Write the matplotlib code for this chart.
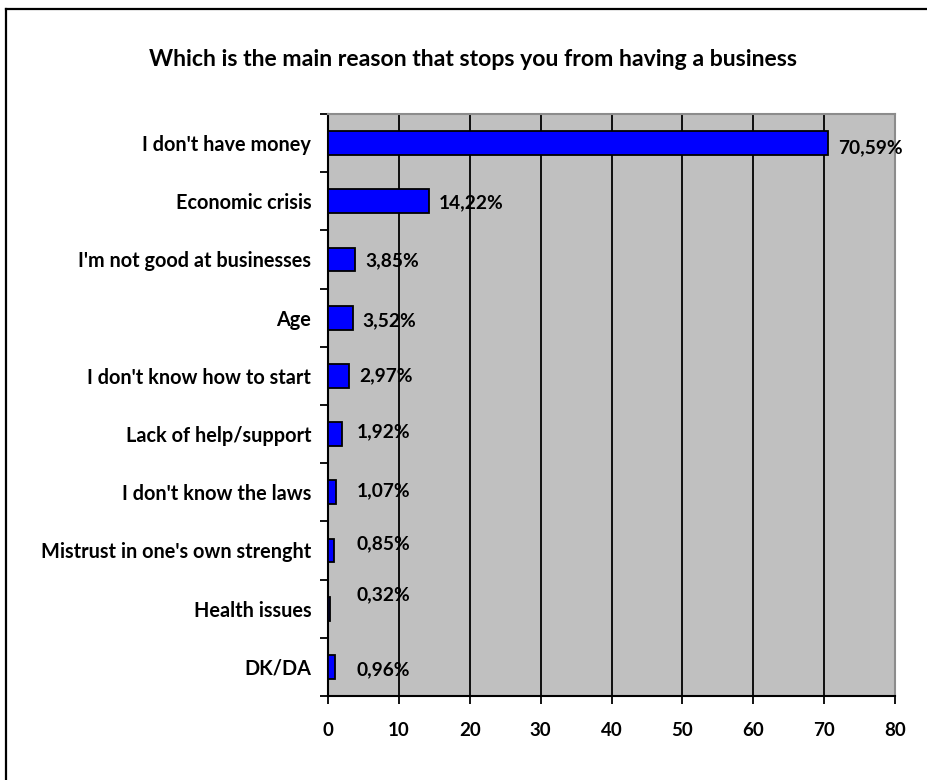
import numpy as np
import matplotlib
matplotlib.use("Agg")
import matplotlib.pyplot as plt
from matplotlib.lines import Line2D

plt.rcParams['font.family'] = ['Lato', 'DejaVu Sans']
plt.rcParams['font.weight'] = 'bold'

#########################
# DATA
#########################
categories = ["I don't have money", "Economic crisis", "I'm not good at businesses", "Age",
              "I don't know how to start", "Lack of help/support", "I don't know the laws",
              "Mistrust in one's own strenght", "Health issues", "DK/DA"]
values = [70.59, 14.22, 3.85, 3.52, 2.97, 1.92, 1.07, 0.85, 0.32, 0.96]
labels = ["70,59%", "14,22%", "3,85%", "3,52%", "2,97%", "1,92%", "1,07%", "0,85%", "0,32%", "0,96%"]
xticks = [0, 10, 20, 30, 40, 50, 60, 70, 80]
title = "Which is the main reason that stops you from having a business"

# small vertical nudges of the value labels (points), as in the original
label_dy = [-3, -1, -1, -2, 0, 2, 1, 5, 10, -2]

W, H = 927, 780
fig = plt.figure(figsize=(W / 100, H / 100), dpi=100)
ax = fig.add_axes([328 / W, 1 - 696 / H, (895 - 328) / W, (696 - 114) / H])

n = len(categories)
ypos = np.arange(n)
ax.set_facecolor('#c0c0c0')
ax.barh(ypos, values, height=0.41, color='#0000ff', edgecolor='black', linewidth=1.3, zorder=3)

ax.set_xlim(0, 80)
ax.set_ylim(n - 0.5, -0.5)
ax.set_xticks(xticks)
ax.set_xticklabels([str(t) for t in xticks], fontsize=13.5, fontweight='bold')
ax.xaxis.grid(True, color='black', linewidth=1.3, zorder=1)
ax.set_axisbelow(True)

# category labels between the boundary ticks
ax.set_yticks(np.arange(n + 1) - 0.5)
ax.set_yticklabels([])
ax.set_yticks(ypos, minor=True)
ax.set_yticklabels(categories, minor=True, fontsize=14.3, fontweight='bold')
ax.tick_params(axis='y', which='minor', length=0, pad=12)
ax.tick_params(axis='y', which='major', length=6, width=1.3, direction='out')
ax.tick_params(axis='x', length=6, width=1.3, direction='out', pad=13)

for s in ['left', 'bottom']:
    ax.spines[s].set_linewidth(1.5)
    ax.spines[s].set_color('black')
for s in ['top', 'right']:
    ax.spines[s].set_linewidth(1.5)
    ax.spines[s].set_color('#8c8c8c')

for i, (v, lab) in enumerate(zip(values, labels)):
    ax.annotate(lab, (max(v, 2.7), i), xytext=(7, label_dy[i]), textcoords='offset points',
                ha='left', va='center', fontsize=13.8, fontweight='bold', zorder=4)

fig.text(473 / W, 1 - 60 / H, title, ha='center', va='center', fontsize=16.6, fontweight='bold')

# outer chart border (only top and left visible in the crop)
fig.add_artist(Line2D([6 / W, 1.0], [1 - 9 / H, 1 - 9 / H], transform=fig.transFigure,
                      color='black', linewidth=1.6))
fig.add_artist(Line2D([6 / W, 6 / W], [0.0, 1 - 9 / H], transform=fig.transFigure,
                      color='black', linewidth=1.6))

fig.savefig('out.png', dpi=100)
